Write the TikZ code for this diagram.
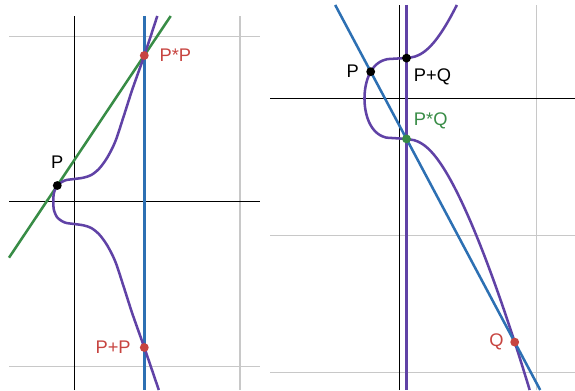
\documentclass[tikz,border=0pt]{standalone}
\usepackage{fontspec}
\setmainfont{Liberation Sans}
\usetikzlibrary{positioning}
\definecolor{CurvePurple}{RGB}{96,66,166}
\definecolor{LineBlue}   {RGB}{45,112,179}
\definecolor{LineGreen}  {RGB}{56,140,70}
\definecolor{PointRed}   {RGB}{199,68,64}
\definecolor{GridGray}   {RGB}{200,200,200}
\tikzset{
  gridline/.style={GridGray,line width=1.2pt},
  axisline/.style={black,line width=1.1pt},
  curve/.style={CurvePurple,line width=1.8pt},
  dot/.style={circle,fill,inner sep=0pt,minimum size=6.3pt},
  lbl/.style={font=\fontsize{13}{15}\selectfont},
  declare function={cbrt(\v)=(\v<0?-1:1)*pow(abs(\v),1/3);}
}

\begin{document}
\begin{tikzpicture}[x=0.25cm,y=0.25cm]
  \useasboundingbox (0,0) rectangle (57.5,39);

  % left: tangent at P, P+P
  \begin{scope}[shift={(7.43,18.85)}]
    \foreach \y in {-16.5,16.5}
      \draw[gridline] (-6.53,\y) -- (18.57,\y);
    \draw[gridline] (16.6,-18.85) -- (16.6,18.55);
    \draw[axisline] (-6.53,0) -- (18.57,0);
    \draw[axisline] (0,-18.85) -- (0,18.55);
    \coordinate (tP)    at (-1.7,1.6);
    \coordinate (tPP)   at (7,14.6);
    \coordinate (tPsum) at (7,-14.6);
    \coordinate (tA) at (-6.53,-5.62);
    \coordinate (tB) at (9.64,18.55);
    \coordinate (vA) at (7,18.55);
    \coordinate (vB) at (7,-18.85);
    \draw[LineBlue,line width=2.1pt] (vA) -- (vB);
    \draw[LineGreen,line width=1.8pt] (tA) -- (tB);
    \draw[curve] plot[smooth] coordinates {
      (8.3,18.55) (7,14.6) (5.8,11.2) (4.9,8.4) (4.1,6) (3.3,4.4)
      (2.5,3.3) (1.7,2.65) (0.9,2.38) (0,2.25) (-0.95,2.1) (-1.7,1.6)
      (-2.05,0.8) (-2.1,0) (-2.05,-0.8) (-1.7,-1.6) (-0.95,-2.1)
      (0,-2.25) (0.9,-2.38) (1.7,-2.65) (2.5,-3.3) (3.3,-4.4) (4.1,-6)
      (4.9,-8.4) (5.8,-11.2) (7,-14.6) (8.45,-18.85)};
    \node[dot] (dP) at (tP) {};
    \node[dot,PointRed] (dPP) at (tPP) {};
    \node[dot,PointRed] (dPsum) at (tPsum) {};
    \node[lbl,above=5pt of dP] (lP) {P};
    \node[lbl,PointRed,right=4pt of dPP] (lPP) {P*P};
    \node[lbl,PointRed,left=2.8pt of dPsum] (lPsum) {P+P};
  \end{scope}

  % right: chord through P and Q, P+Q
  \begin{scope}[shift={(39.95,29.15)}]
    \foreach \y in {-13.7,-27.4}
      \draw[gridline] (-12.95,\y) -- (17.55,\y);
    \draw[gridline] (13.7,-29.15) -- (13.7,9.35);
    \draw[axisline] (-12.95,0) -- (17.55,0);
    \draw[axisline] (0,-29.15) -- (0,9.35);
    \coordinate (sP)   at (-2.88,2.68);
    \coordinate (sQ)   at (11.52,-24.36);
    \coordinate (sPsQ) at (0.7,-4.04);
    \coordinate (sPQ)  at (0.7,4.04);
    \coordinate (cA) at (-6.43,9.35);
    \coordinate (cB) at (14.07,-29.15);
    \coordinate (mA) at (0.7,9.35);
    \coordinate (mB) at (0.7,-29.15);
    \draw[curve] (mA) -- (mB);
    \draw[curve] plot[domain=-29.15:9.35,samples=300,variable=\t]
      ({cbrt((\t*\t-16.2)/0.3776)},\t);
    \draw[LineBlue,line width=1.8pt] (cA) -- (cB);
    \node[dot] (dsP) at (sP) {};
    \node[dot] (dsPQ) at (sPQ) {};
    \node[dot,LineGreen] (dsPsQ) at (sPsQ) {};
    \node[dot,PointRed] (dsQ) at (sQ) {};
    \node[lbl,left=1.6pt of dsP] (lsP) {P};
    \node[lbl,below right=1.6pt and -0.6pt of dsPQ] (lsPQ) {P+Q};
    \node[lbl,LineGreen,above right=1.2pt and -0.6pt of dsPsQ] (lsPsQ) {P*Q};
    \node[lbl,PointRed,left=1pt of dsQ] (lsQ) {Q};
  \end{scope}
\end{tikzpicture}
\end{document}
